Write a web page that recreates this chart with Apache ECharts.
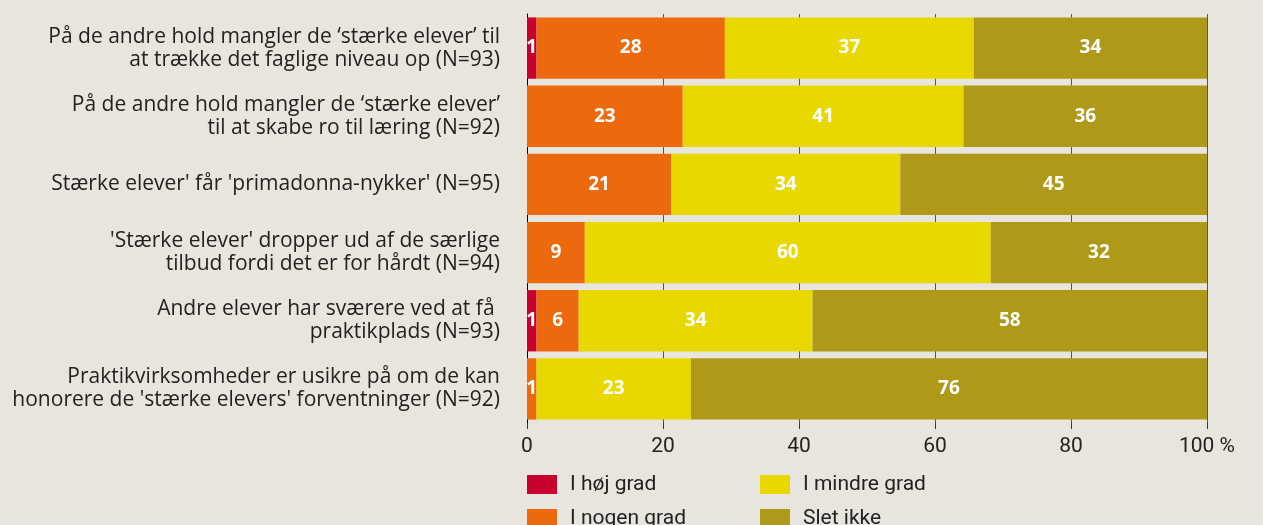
<!DOCTYPE html>
<html>
	<head>
		<meta charset="UTF-8" />
		<title>Stærke elever</title>
		<style>
			html, body { margin: 0; padding: 0; background: #e8e5de; }
			#chart { width: 1263px; height: 525px; }
		</style>
	</head>
	<body>
		<div id="chart"></div>
		<script type="text/javascript" src="https://cdn.jsdelivr.net/npm/echarts@6/dist/echarts.min.js"></script>
		<script type="text/javascript">
			// data (percent)
			const categories = [
				"På de andre hold mangler de ‘stærke elever’ til\nat trække det faglige niveau op (N=93)",
				"På de andre hold mangler de ‘stærke elever’\ntil at skabe ro til læring (N=92)",
				"Stærke elever' får 'primadonna-nykker' (N=95)",
				"'Stærke elever' dropper ud af de særlige\ntilbud fordi det er for hårdt (N=94)",
				"Andre elever har sværere ved at få \npraktikplads (N=93)",
				"Praktikvirksomheder er usikre på om de kan\nhonorere de 'stærke elevers' forventninger (N=92)"
			];
			const seriesNames = ["I høj grad", "I nogen grad", "I mindre grad", "Slet ikke"];
			const hojGrad = [1.4, 0, 0, 0, 1.4, 0];
			const nogenGrad = [27.7, 22.9, 21.2, 8.5, 6.2, 1.4];
			const mindreGrad = [36.6, 41.3, 33.7, 59.7, 34.4, 22.7];
			const sletIkke = [34.3, 35.8, 45.1, 31.8, 58.0, 75.9];
			const xTicks = [0, 20, 40, 60, 80, 100];
			const colors = ["#c8002d", "#ec690d", "#e8d800", "#ae9a18"];

			const chart = echarts.init(document.getElementById("chart"));
			const narrow = "'Liberation Sans Narrow', 'Roboto', sans-serif";

			function makeSeries(name, values) {
				return {
					name: name,
					type: "bar",
					stack: "total",
					barCategoryGap: "10%",
					data: values,
					label: {
						show: true,
						position: "inside",
						color: "#fff",
						fontWeight: "bold",
						fontSize: 19,
						fontFamily: "'Open Sans', sans-serif",
						formatter: function(p) {
							return p.value > 0 ? Math.round(p.value) : "";
						}
					}
				};
			}

			const legendBase = {
				orient: "vertical",
				top: 474,
				height: 100,
				padding: 0,
				itemWidth: 30,
				itemHeight: 19,
				itemGap: 13,
				icon: "rect",
				textStyle: {
					fontSize: 21,
					lineHeight: 19,
					color: "#222",
					fontFamily: narrow,
					padding: [0, 0, 0, 8]
				}
			};

			chart.setOption({
				backgroundColor: "#e8e5de",
				color: colors,
				animation: false,
				legend: [
					Object.assign({}, legendBase, { left: 527, data: seriesNames.slice(0, 2) }),
					Object.assign({}, legendBase, { left: 760, data: seriesNames.slice(2, 4) })
				],
				grid: { left: 527, right: 56, top: 14, bottom: 102 },
				xAxis: {
					type: "value",
					min: xTicks[0],
					max: xTicks[xTicks.length - 1],
					interval: 20,
					axisLine: { show: false },
					axisTick: { show: true, length: 6, lineStyle: { color: "#333" } },
					splitLine: { show: true, lineStyle: { color: "#555", width: 1 } },
					axisLabel: {
						margin: 13,
						fontSize: 21,
						color: "#222",
						fontFamily: narrow,
						formatter: function(v) { return v === 100 ? "100 %" : String(v); }
					}
				},
				yAxis: {
					type: "category",
					inverse: true,
					data: categories,
					axisLine: { show: true, lineStyle: { color: "#000", width: 1 } },
					axisTick: { show: false },
					axisLabel: {
						margin: 27,
						fontSize: 21,
						lineHeight: 23,
						color: "#222",
						fontFamily: "'Open Sans', sans-serif",
						align: "right"
					}
				},
				series: [
					makeSeries(seriesNames[0], hojGrad),
					makeSeries(seriesNames[1], nogenGrad),
					makeSeries(seriesNames[2], mindreGrad),
					makeSeries(seriesNames[3], sletIkke)
				]
			});

			window.addEventListener("resize", function() {
				chart.resize();
			});
		</script>
	</body>
</html>
